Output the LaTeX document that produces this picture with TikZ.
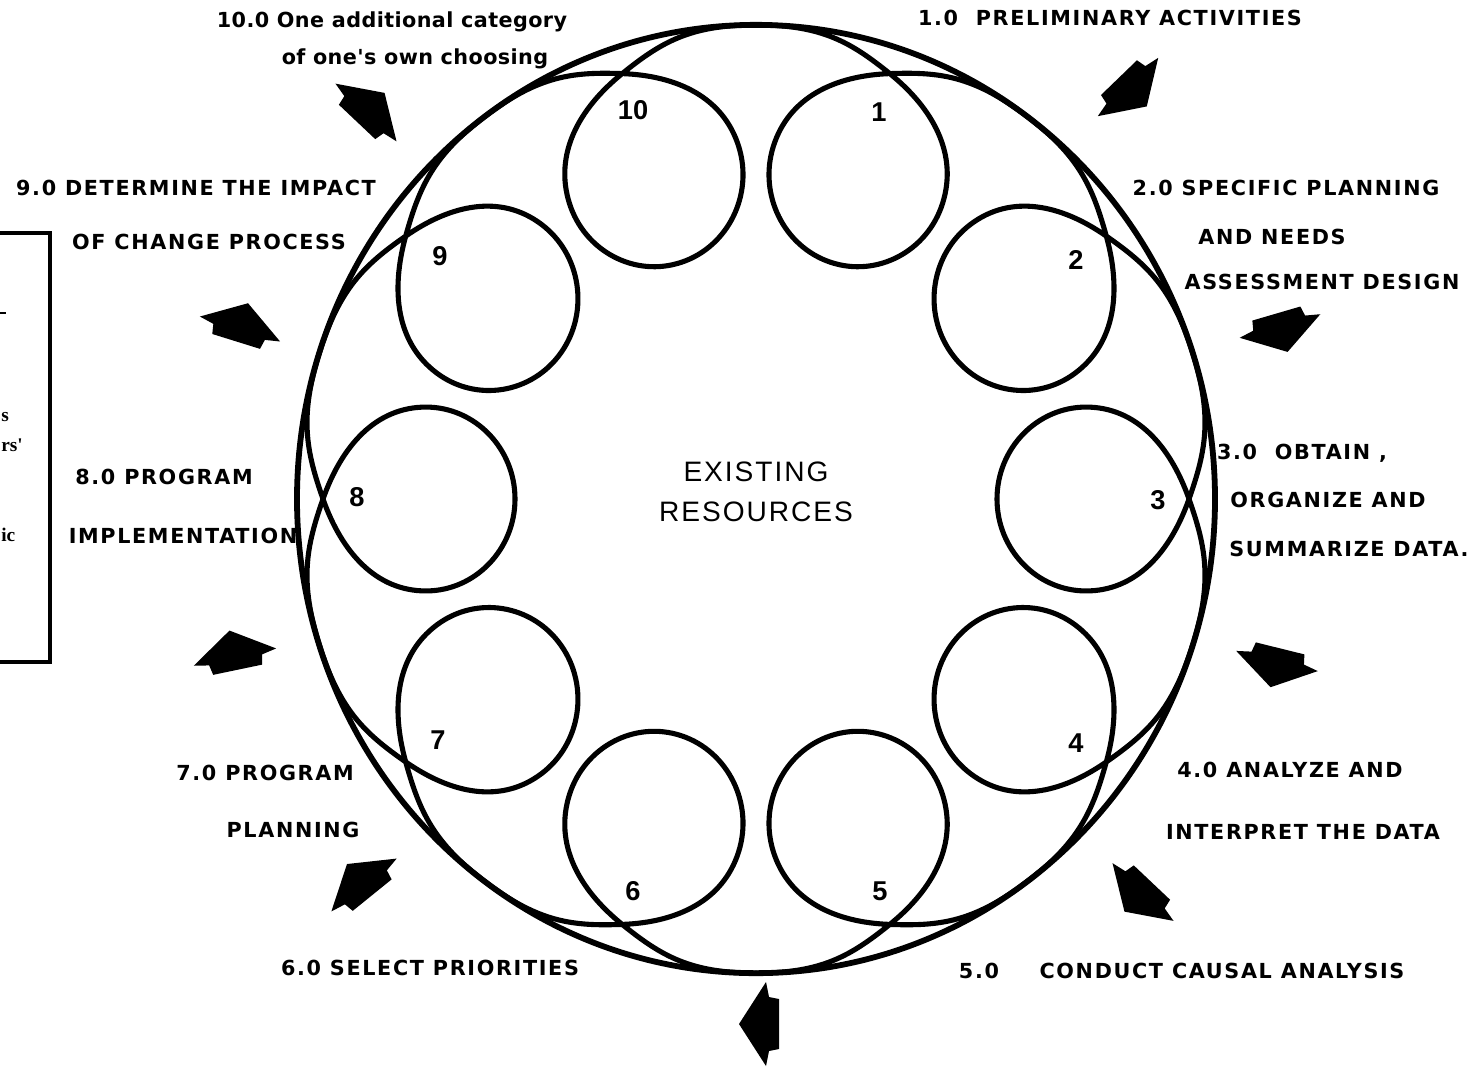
\documentclass[tikz,border=0pt]{standalone}
\usepackage{fontspec}
\setmainfont{Liberation Sans}
\newfontfamily\labfont[LetterSpace=8]{DejaVu Sans}
\newfontfamily\lowfont[LetterSpace=2]{DejaVu Sans}
\newfontfamily\ctrfont[LetterSpace=7]{Liberation Sans}
\newfontfamily\fragfont{Liberation Serif}
% block arrow showing the clockwise flow: barb midpoint, direction
\newcommand\flowarrow[2]{%
  \fill[shift={#1},rotate=#2] (27,0) -- (0,42) -- (-3,27) -- (-13,25)
    -- (-13,-25) -- (-3,-27) -- (0,-42) -- cycle;}
\begin{document}
\begin{tikzpicture}[x=0.02cm,y=-0.02cm,
  steplabel/.style={font={\labfont\fontsize{11.8}{14}\selectfont\bfseries},anchor=base,inner sep=0pt},
  lowlabel/.style={font={\lowfont\fontsize{11.8}{14}\selectfont\bfseries},anchor=base,inner sep=0pt},
  loopnum/.style={font={\fontsize{15.5}{17}\selectfont\bfseries},inner sep=0pt},
  centerlabel/.style={font={\ctrfont\fontsize{16}{18}\selectfont},inner sep=0pt},
  fragment/.style={font={\fragfont\fontsize{11}{13}\selectfont\bfseries},anchor=base west,inner sep=0pt},
  loopline/.style={line width=2.9pt,line cap=round,line join=round},
  rimline/.style={line width=3.3pt},
  boxline/.style={line width=2.3pt}]
\useasboundingbox (0,0) rectangle (1481,1066);
\clip (0,0) rectangle (1481,1066);

% ring of ten loops inside the outer rim
\begin{scope}[shift={(756,499)},x=0.02cm,y=0.02cm,yscale=1.033]
  \draw[rimline] (0,0) circle[radius=459];
  \foreach \k in {0,...,9}{
    \begin{scope}[rotate={-18-36*\k}]
      \draw[loopline] (-141.8,436.5) .. controls (-79.7,456.7) and (-47,450.1) .. (0,433)
        .. controls (51.7,414.2) and (89,380) .. (89,330)
        .. controls (89,281) and (49,241) .. (0,241)
        .. controls (-49,241) and (-89,281) .. (-89,330)
        .. controls (-89,380) and (-51.7,414.2) .. (0,433)
        .. controls (47,450.1) and (79.7,456.7) .. (141.8,436.5);
    \end{scope}
  }
\end{scope}

% loop numbers
\node[loopnum] (n1) at (879,112) {1};
\node[loopnum] (n2) at (1076,260) {2};
\node[loopnum] (n3) at (1158,500) {3};
\node[loopnum] (n4) at (1076,743) {4};
\node[loopnum] (n5) at (880,891) {5};
\node[loopnum] (n6) at (633,891) {6};
\node[loopnum] (n7) at (438,740) {7};
\node[loopnum] (n8) at (357,497) {8};
\node[loopnum] (n9) at (440,256) {9};
\node[loopnum] (n10) at (633,110) {10};

% centre
\node[centerlabel] (ctr1) at (756,472) {EXISTING};
\node[centerlabel] (ctr2) at (756,512) {RESOURCES};

% step labels
\node[lowlabel] (s10a) at (392,27) {10.0 One additional category};
\node[lowlabel] (s10b) at (415,64) {of one's own choosing};
\node[steplabel] (s1) at (1110,25) {1.0 \ PRELIMINARY ACTIVITIES};
\node[steplabel] (s9a) at (196,195) {9.0 DETERMINE THE IMPACT};
\node[steplabel] (s9b) at (209,249) {OF CHANGE PROCESS};
\node[steplabel] (s2a) at (1286,195) {2.0 SPECIFIC PLANNING};
\node[steplabel] (s2b) at (1272,244) {AND NEEDS};
\node[steplabel] (s2c) at (1322,289) {ASSESSMENT DESIGN};
\node[steplabel] (s3a) at (1302,459) {3.0 \ OBTAIN ,};
\node[steplabel] (s3b) at (1328,507) {ORGANIZE AND};
\node[steplabel] (s3c) at (1349,556) {SUMMARIZE DATA.};
\node[steplabel] (s4a) at (1290,777) {4.0 ANALYZE AND};
\node[steplabel] (s4b) at (1303,839) {INTERPRET THE DATA};
\node[steplabel] (s5a) at (979,978) {5.0};
\node[steplabel] (s5b) at (1222,978) {CONDUCT CAUSAL ANALYSIS};
\node[steplabel] (s6) at (430,975) {6.0 SELECT PRIORITIES};
\node[steplabel] (s7a) at (265,780) {7.0 PROGRAM};
\node[steplabel] (s7b) at (293,837) {PLANNING};
\node[steplabel] (s8a) at (164,484) {8.0 PROGRAM};
\node[steplabel] (s8b) at (183,543) {IMPLEMENTATION};

% flow arrows
\flowarrow{(366,112.5)}{46.6}
\flowarrow{(1128,87)}{-46}
\flowarrow{(1280,326)}{-73.7}
\flowarrow{(1277,661)}{-103.9}
\flowarrow{(1143,892)}{-133.4}
\flowarrow{(766,1024)}{180}
\flowarrow{(364,885)}{129}
\flowarrow{(235,657)}{101.8}
\flowarrow{(240,329)}{72.7}

% side panel
\draw[boxline] (-20,233) -- (50,233) -- (50,662) -- (-20,662);
\draw[line width=1.6pt] (0,313) -- (6,313);
\node[fragment] (f2) at (1,421) {s};
\node[fragment] (f3) at (1,451) {rs'};
\node[fragment] (f4) at (1,541) {ic};
\end{tikzpicture}
\end{document}
